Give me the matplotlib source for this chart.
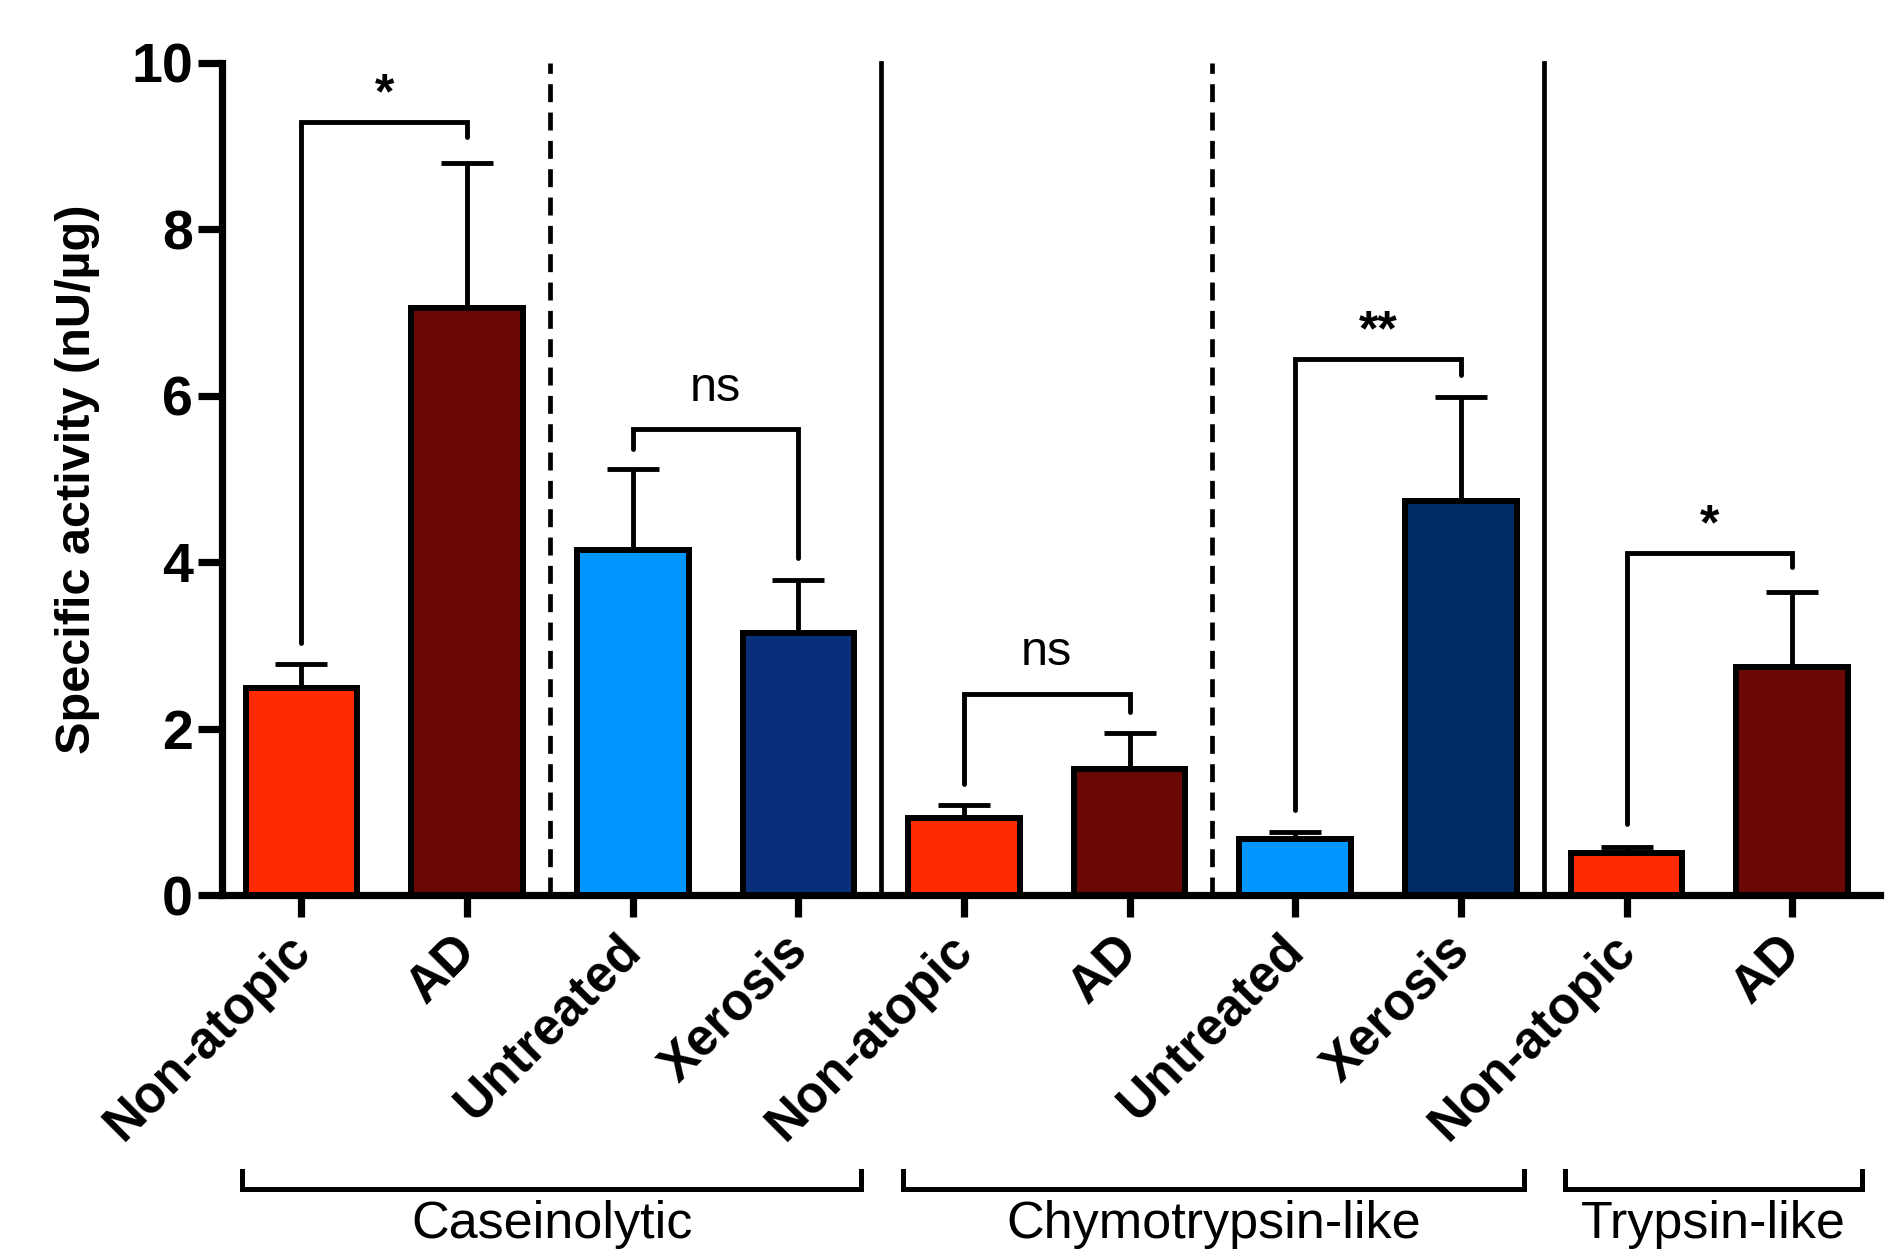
import numpy as np
import matplotlib
matplotlib.use("Agg")
import matplotlib.pyplot as plt
import matplotlib.transforms as mtransforms

plt.rcParams['font.family'] = ['Liberation Sans', 'DejaVu Sans']

# bar data: mean and upper error (SEM), in nU/ug
labels = ['Non-atopic', 'AD', 'Untreated', 'Xerosis', 'Non-atopic', 'AD',
          'Untreated', 'Xerosis', 'Non-atopic', 'AD']
means = [2.49, 7.06, 4.15, 3.15, 0.93, 1.52, 0.67, 4.74, 0.50, 2.74]
errs = [0.29, 1.74, 0.97, 0.64, 0.15, 0.43, 0.09, 1.24, 0.08, 0.90]
colors = ['#FF2A00', '#6A0804', '#0096FF', '#0A2F7A', '#FF2A00', '#6A0804',
          '#0096FF', '#002C66', '#FF2A00', '#6A0804']

# significance brackets: left bar, right bar, top, left leg end, right leg end, text
brackets = [(0, 1, 9.29, 3.03, 9.11, '*'),
            (2, 3, 5.60, 5.36, 4.05, 'ns'),
            (4, 5, 2.42, 1.33, 2.20, 'ns'),
            (6, 7, 6.44, 1.02, 6.25, '**'),
            (8, 9, 4.11, 0.85, 3.94, '*')]

# enzyme groups below the axis
groups = ['Caseinolytic', 'Chymotrypsin-like', 'Trypsin-like']
group_spans = [(-0.36, 3.38), (3.63, 7.38), (7.63, 9.42)]

dashed_dividers = [1.5, 5.5]
solid_dividers = [3.5, 7.5]

fig = plt.figure(figsize=(19.02, 12.49), dpi=100)
ax = fig.add_axes([0.1167, 0.2834, 0.8717, 0.6662])

x = np.arange(len(means))
ax.bar(x, means, width=0.674, color=colors, edgecolor='black', linewidth=4.3, zorder=3)
ax.errorbar(x, means, yerr=[np.zeros(len(errs)), errs], fmt='none', ecolor='black',
            elinewidth=3.5, capsize=19, capthick=3.5, zorder=2)

for d in dashed_dividers:
    ax.plot([d, d], [0, 10], color='black', lw=3.4, ls=(0, (3.8, 2.2)), zorder=1, clip_on=False)
for d in solid_dividers:
    ax.plot([d, d], [0, 10], color='black', lw=3.4, zorder=1, clip_on=False)

for i, j, top, yl, yr, txt in brackets:
    ax.plot([i, i, j, j], [yl, top, top, yr], color='black', lw=3.5,
            solid_joinstyle='miter', solid_capstyle='round', zorder=4)
    if txt == 'ns':
        ax.text((i + j) / 2, top + 0.22, txt, ha='center', va='bottom', fontsize=35)
    else:
        ax.text((i + j) / 2, top + 0.05, txt, ha='center', va='bottom', fontsize=36,
                fontweight='bold')

ax.set_xlim(-0.48, 9.53)
ax.set_ylim(0, 10)
ax.set_yticks([0, 2, 4, 6, 8, 10])
ax.set_xticks(x)
ax.set_xticklabels([])
for t in ax.get_yticklabels():
    t.set_fontsize(40)
    t.set_fontweight('bold')

# rotated category labels under each tick
trans = mtransforms.blended_transform_factory(ax.transData, ax.transAxes)
shift = mtransforms.ScaledTranslation(-11.5 / 72, -22 / 72, fig.dpi_scale_trans)
for xi, lab in zip(x, labels):
    ax.text(xi, 0, lab, transform=trans + shift, rotation=45, ha='right', va='top',
            rotation_mode='anchor', fontsize=37, fontweight='bold')

ax.spines['top'].set_visible(False)
ax.spines['right'].set_visible(False)
ax.spines['left'].set_linewidth(5.2)
ax.spines['bottom'].set_linewidth(5.2)
ax.tick_params(axis='y', length=17, width=5.2, pad=4)
ax.tick_params(axis='x', length=16, width=5.2, pad=10)
ax.set_ylabel('Specific activity (nU/µg)', fontsize=35, fontweight='bold', labelpad=22)

for name, (a, b) in zip(groups, group_spans):
    ax.plot([a, a, b, b], [-0.332, -0.353, -0.353, -0.332], color='black', lw=3.6,
            transform=trans, clip_on=False, solid_joinstyle='miter')
    ax.text((a + b) / 2, -0.366, name, transform=trans, ha='center', va='top', fontsize=37.5)

fig.savefig('out.png', dpi=100)
